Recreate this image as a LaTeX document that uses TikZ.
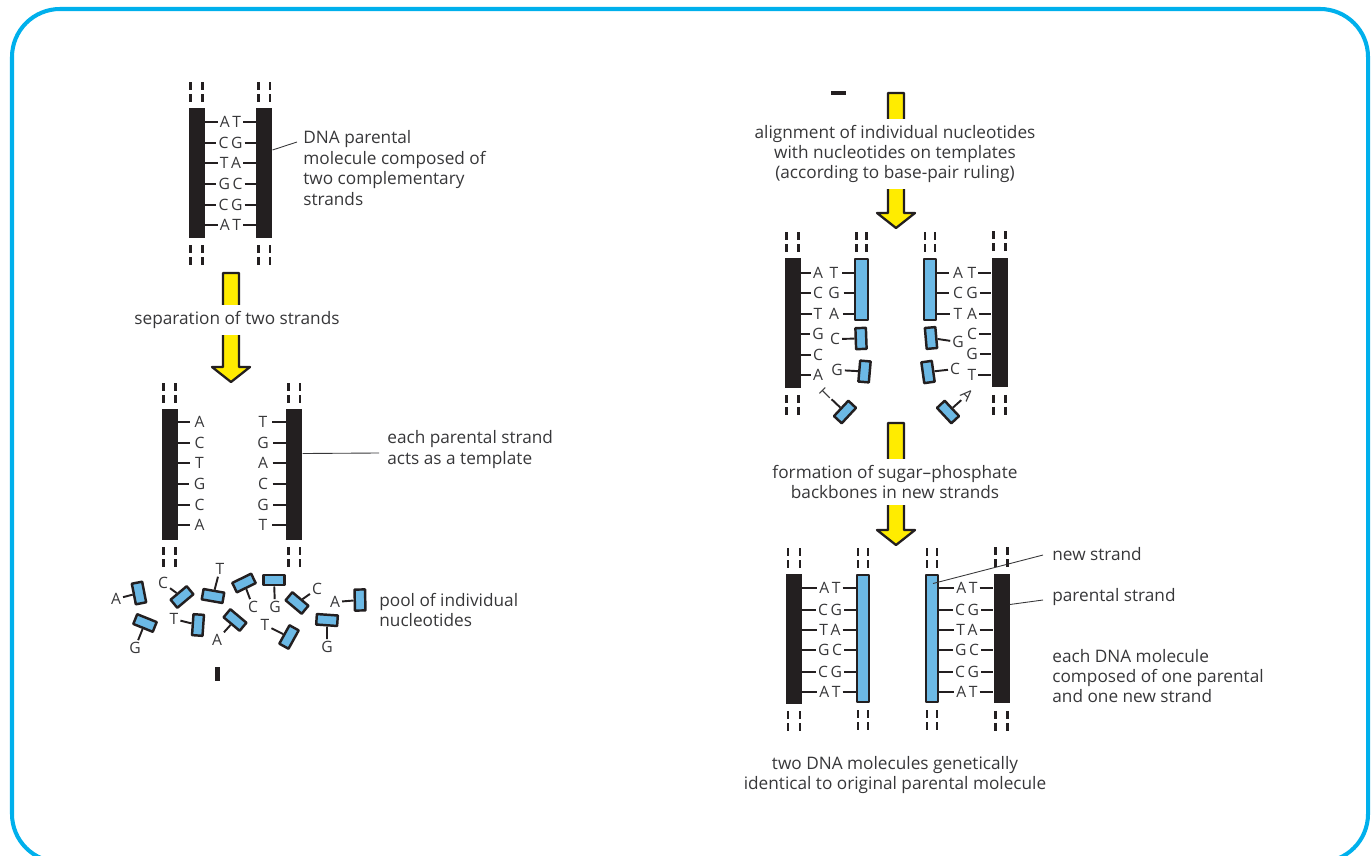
\documentclass[tikz,border=0pt]{standalone}
\usepackage{fontspec}
\setmainfont{Open Sans}
\usetikzlibrary{calc,positioning}

\definecolor{framecyan}{RGB}{0,176,236}
\definecolor{newblue}{RGB}{108,185,229}
\definecolor{arrowyellow}{RGB}{255,236,0}
\definecolor{strandblack}{RGB}{35,31,32}
\definecolor{txt}{RGB}{55,55,57}

\begin{document}
\begin{tikzpicture}[x=0.02cm,y=-0.02cm,line join=round]
    \tikzstyle{parent}=[rectangle, fill=strandblack, minimum width=0.32cm, minimum height=2.6cm, inner sep=0pt]
    \tikzstyle{newstrand}=[rectangle, fill=newblue, draw=strandblack, line width=1.4pt, minimum width=0.25cm, inner sep=0pt]
    \tikzstyle{nucleo}=[rectangle, fill=newblue, draw=strandblack, line width=1.4pt, minimum width=0.42cm, minimum height=0.21cm, inner sep=0pt]
    \tikzstyle{base}=[text=txt, font=\fontsize{8.9}{10}\selectfont, inner sep=1pt]
    \tikzstyle{rung}=[draw=strandblack, line width=1.1pt]
    \tikzstyle{stub}=[draw=strandblack, line width=1.4pt, dash pattern=on 4.5pt off 2.3pt]
    \tikzstyle{note}=[text=txt, font=\fontsize{9.8}{11.6}\selectfont, align=left, anchor=west, inner sep=0pt]
    \tikzstyle{stage}=[text=txt, font=\fontsize{9.8}{11.6}\selectfont, align=center, fill=white, inner xsep=1pt, inner ysep=3.4pt]
    \tikzstyle{leader}=[draw=txt, line width=0.5pt]
    \tikzstyle{yarrow}=[fill=arrowyellow, draw=strandblack, line width=1.3pt]

    \useasboundingbox (0,0) rectangle (1371,855);
    \draw[framecyan, line width=2.3pt, rounded corners=0.96cm] (12,9) rectangle (1368,862);

    % parental double strand
    \node[parent] (p1l) at (196.5,173) {};
    \node[parent, right=1.02cm of p1l] (p1r) {};
    \foreach \y/\pair [count=\i] in {122/{A\,T},143/{C\,G},163/{T\,A},184/{G\,C},205/{C\,G},225/{A\,T}}{
      \node[base] (pair\i) at (230.5,\y) {\pair};
      \draw[rung] (p1l.east |- pair\i) -- (pair\i);
      \draw[rung] (pair\i) -- (p1r.west |- pair\i);
    }
    \node[note] (dnatext) at (303,168) {DNA parental\\molecule composed of\\two complementary\\strands};
    \draw[leader] ($(p1r.east)+(0,-23)$) -- ($(dnatext.west)+(-6,-26)$);

    % separated templates
    \node[parent, minimum height=2.62cm] (p2l) at (169.5,474.5) {};
    \node[parent, minimum height=2.62cm, right=2.16cm of p2l] (p2r) {};
    \foreach \y/\lb/\rb [count=\i] in {422/A/T,443/C/G,463/T/A,484/G/C,505/C/G,525/A/T}{
      \node[base, inner xsep=2.5pt] (sl\i) at (199.5,\y) {\lb};
      \node[base, inner xsep=2.5pt] (sr\i) at (263,\y) {\rb};
      \draw[rung] (p2l.east |- sl\i) -- (sl\i);
      \draw[rung] (sr\i) -- (p2r.west |- sr\i);
    }
    \node[note] (tmpltext) at (387,449.5) {each parental strand\\acts as a template};
    \draw[leader] ($(p2r.east)+(0,-21)$) -- ($(tmpltext.west)+(-8,3.5)$);

    % free nucleotides
    \foreach \n/\x/\y/\r/\b/\bx/\by in {1/139/593/101/A/116/599, 2/145/623/-22/G/135/648,
        3/182/597/40/C/163/583, 4/213/596/-10/T/220/569, 5/198/625/86/T/174/619,
        6/235/620/-40/A/217/640, 7/244/583/26/C/253/607, 8/274/580/0/G/275/607,
        9/297/603/-40/C/317/589, 10/289/637/61/T/265/625, 11/360/600/91/A/335/602,
        12/327/620/-4/G/327/647}{
      \node[nucleo, rotate=\r] (pool\n) at (\x,\y) {};
      \node[base] (poolb\n) at (\bx,\by) {\b};
      \draw[rung] (pool\n) -- (poolb\n);
    }
    \node[note] (pooltext) at (379,610) {pool of individual\\nucleotides};
    \fill[strandblack] (215,667) rectangle (219.5,681);
    \fill[strandblack] (831,91) rectangle (846,95.5);

    % alignment on both templates
    \node[parent] (a1p) at (792.5,323) {};
    \node[newstrand, minimum height=1.22cm] (a1n) at (861.5,289.5) {};
    \foreach \y/\b [count=\i] in {273/A,293/C,314/T,334/G,355/C,375/A}{
      \node[base] (a1b\i) at (818,\y) {\b};
      \draw[rung] (a1p.east |- a1b\i) -- (a1b\i);
    }
    \foreach \y/\b [count=\i] in {273/T,293/G,314/A}{
      \node[base, inner xsep=2pt] (a1c\i) at (834,\y) {\b};
      \draw[rung] (a1c\i) -- (a1n.west |- a1c\i);
    }
    \node[nucleo, rotate=92] (a1x) at (861,338.5) {};
    \node[base] (a1xb) at (835,339) {C};
    \draw[rung] (a1xb) -- (a1x);
    \node[nucleo, rotate=85] (a1y) at (864.5,371.5) {};
    \node[base] (a1yb) at (837,370) {G};
    \draw[rung] (a1yb) -- (a1y);
    \node[nucleo, rotate=47] (a1z) at (845,412) {};
    \node[base, rotate=45] (a1zb) at (826,394) {T};
    \draw[rung] (a1zb) -- (a1z);

    \node[parent] (a2p) at (999.5,322.5) {};
    \node[newstrand, minimum height=1.22cm] (a2n) at (930,289.5) {};
    \foreach \y/\b [count=\i] in {273/T,293/G,314/A,334/C,354/G,375/T}{
      \node[base] (a2b\i) at (972,\y) {\b};
      \draw[rung] (a2b\i) -- (a2p.west |- a2b\i);
    }
    \foreach \y/\b [count=\i] in {273/A,293/C,314/T}{
      \node[base, inner xsep=2pt] (a2c\i) at (958,\y) {\b};
      \draw[rung] (a2n.east |- a2c\i) -- (a2c\i);
    }
    \node[nucleo, rotate=95] (a2x) at (931,338) {};
    \node[base] (a2xb) at (958,342) {G};
    \draw[rung] (a2x) -- (a2xb);
    \node[nucleo, rotate=98] (a2y) at (928,372) {};
    \node[base] (a2yb) at (955,369) {C};
    \draw[rung] (a2y) -- (a2yb);
    \node[nucleo, rotate=-47] (a2z) at (948,412) {};
    \node[base, rotate=-45] (a2zb) at (967,395) {A};
    \draw[rung] (a2z) -- (a2zb);

    % two daughter molecules
    \node[parent] (f1p) at (794,639) {};
    \node[newstrand, minimum height=2.54cm] (f1n) at (863,638.5) {};
    \node[newstrand, minimum height=2.54cm] (f2n) at (932,638.5) {};
    \node[parent] (f2p) at (1001.5,638.5) {};
    \foreach \y/\pair [count=\i] in {588/{A\,T},610/{C\,G},630/{T\,A},650/{G\,C},672/{C\,G},692/{A\,T}}{
      \node[base] (fl\i) at (830,\y) {\pair};
      \node[base] (fr\i) at (967,\y) {\pair};
      \draw[rung] (f1p.east |- fl\i) -- (fl\i);
      \draw[rung] (fl\i) -- (f1n.west |- fl\i);
      \draw[rung] (f2n.east |- fr\i) -- (fr\i);
      \draw[rung] (fr\i) -- (f2p.west |- fr\i);
    }
    \node[note] (newtext) at (1052,554) {new strand};
    \node[note] (partext) at (1052,597) {parental strand};
    \node[note] (eachtext) at (1052,676) {each DNA molecule\\composed of one parental\\and one new strand};
    \draw[leader] ($(f2n.center)+(1,-55)$) -- ($(newtext.west)+(-9,1)$);
    \draw[leader] ($(f2p.east)+(0,-34)$) -- ($(partext.west)+(-9,3)$);

    % broken ends of the strands
    \foreach \sid in {p1l,p1r,p2l,p2r,a1p,a1n,a2n,a2p,f1p,f1n,f2n,f2p}{
      \draw[stub] ($(\sid.north west)+(2.5,-6)$) -- ++(0,-20);
      \draw[stub] ($(\sid.north east)+(-2.5,-6)$) -- ++(0,-20);
    }
    \foreach \sid in {p1l,p1r,p2l,p2r,a1p,a2p,f1p,f1n,f2n,f2p}{
      \draw[stub] ($(\sid.south west)+(2.5,7)$) -- ++(0,20);
      \draw[stub] ($(\sid.south east)+(-2.5,7)$) -- ++(0,20);
    }

    % yellow step arrows
    \foreach \x/\top/\neck/\tip in {231/273/367/382, 896/93/213/228, 896/423/530/545}
      \draw[yarrow] (\x-8,\top) -- (\x+8,\top) -- (\x+8,\neck) -- (\x+19,\neck) -- (\x,\tip)
        -- (\x-19,\neck) -- (\x-8,\neck) -- cycle;
    \node[stage] (sep) at (237,320) {separation of two strands};
    \node[stage] (align) at (895,154) {alignment of individual nucleotides\\with nucleotides on templates\\(according to base-pair ruling)};
    \node[stage] (form) at (895,482) {formation of sugar--phosphate\\backbones in new strands};
    \node[note, align=center, anchor=center] (result) at (895,775) {two DNA molecules genetically\\identical to original parental molecule};
\end{tikzpicture}
\end{document}
